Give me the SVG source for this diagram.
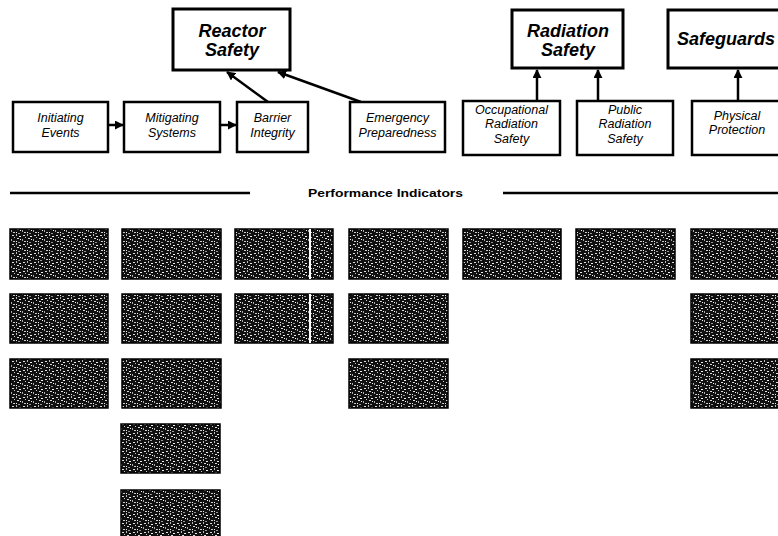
<svg xmlns="http://www.w3.org/2000/svg" width="778" height="536" viewBox="0 0 778 536">
<style>
.top{fill:#fff;stroke:#000;stroke-width:3}
.mid{fill:#fff;stroke:#000;stroke-width:2.5}
.tt{font-family:"Liberation Sans",Arial,sans-serif;font-weight:bold;font-style:italic;font-size:18px;fill:#000;text-anchor:middle}
.mt{font-family:"Liberation Sans",Arial,sans-serif;font-style:italic;font-size:12.5px;fill:#000;text-anchor:middle}
.pi{fill:url(#spk);stroke:#000;stroke-width:1.5}
.con{stroke:#000;stroke-width:2.5;fill:none}
.rule{stroke:#000;stroke-width:2.5}
.lbl{font-family:"Liberation Sans",Arial,sans-serif;font-weight:bold;font-size:10px;fill:#000}
.div{stroke:#fff;stroke-width:2}
</style>
<defs>
<marker id="ah" viewBox="0 0 10 10" refX="9" refY="5" markerWidth="3.6" markerHeight="3.6" orient="auto" markerUnits="strokeWidth">
<path d="M0,0 L10,5 L0,10 Z" fill="#000"/>
</marker>
<pattern id="spk" width="11" height="9" patternUnits="userSpaceOnUse">
<rect width="11" height="9" fill="#101010"/>
<rect x="1" y="1" width="2" height="1" fill="#ddd"/>
<rect x="5" y="0" width="1" height="2" fill="#bbb"/>
<rect x="8" y="2" width="2" height="1" fill="#eee"/>
<rect x="3" y="3" width="1" height="1" fill="#ccc"/>
<rect x="6" y="4" width="2" height="1" fill="#ddd"/>
<rect x="0" y="5" width="1" height="2" fill="#aaa"/>
<rect x="9" y="5" width="1" height="1" fill="#fff"/>
<rect x="2" y="7" width="2" height="1" fill="#ccc"/>
<rect x="5" y="7" width="1" height="1" fill="#eee"/>
<rect x="7" y="8" width="2" height="1" fill="#999"/>
</pattern>
</defs>
<rect width="778" height="536" fill="#fff"/>

<g id="connectors">
<line class="con" x1="108" y1="125" x2="123" y2="125" marker-end="url(#ah)"/>
<line class="con" x1="221" y1="125" x2="236" y2="125" marker-end="url(#ah)"/>
<line class="con" x1="268" y1="102" x2="227" y2="72" marker-end="url(#ah)"/>
<line class="con" x1="361" y1="102" x2="278" y2="72" marker-end="url(#ah)"/>
<line class="con" x1="537" y1="101" x2="537" y2="70" marker-end="url(#ah)"/>
<line class="con" x1="598" y1="101" x2="598" y2="70" marker-end="url(#ah)"/>
<line class="con" x1="738" y1="101" x2="738" y2="70" marker-end="url(#ah)"/>
</g>

<g id="reactor-safety">
<rect class="top" x="173" y="9" width="117" height="61"/>
<text class="tt" x="232" y="37">Reactor</text>
<text class="tt" x="232" y="56">Safety</text>
</g>
<g id="radiation-safety">
<rect class="top" x="512" y="10" width="111" height="58"/>
<text class="tt" x="568" y="37">Radiation</text>
<text class="tt" x="568" y="56">Safety</text>
</g>
<g id="safeguards">
<rect class="top" x="668" y="10" width="124" height="58"/>
<text class="tt" x="677" y="45" style="text-anchor:start">Safeguards</text>
</g>

<g id="initiating-events">
<rect class="mid" x="13" y="102" width="95" height="50"/>
<text class="mt" x="60.5" y="122">Initiating</text>
<text class="mt" x="60.5" y="137">Events</text>
</g>
<g id="mitigating-systems">
<rect class="mid" x="124" y="102" width="96" height="50"/>
<text class="mt" x="172" y="122">Mitigating</text>
<text class="mt" x="172" y="137">Systems</text>
</g>
<g id="barrier-integrity">
<rect class="mid" x="237" y="102" width="71" height="50"/>
<text class="mt" x="272.5" y="122">Barrier</text>
<text class="mt" x="272.5" y="137">Integrity</text>
</g>
<g id="emergency-preparedness">
<rect class="mid" x="350" y="102" width="95" height="50"/>
<text class="mt" x="397.5" y="122">Emergency</text>
<text class="mt" x="397.5" y="137">Preparedness</text>
</g>
<g id="occupational-radiation-safety">
<rect class="mid" x="463" y="101" width="97" height="54"/>
<text class="mt" x="511.5" y="114">Occupational</text>
<text class="mt" x="511.5" y="128">Radiation</text>
<text class="mt" x="511.5" y="143">Safety</text>
</g>
<g id="public-radiation-safety">
<rect class="mid" x="577" y="101" width="96" height="54"/>
<text class="mt" x="625" y="114">Public</text>
<text class="mt" x="625" y="128">Radiation</text>
<text class="mt" x="625" y="143">Safety</text>
</g>
<g id="physical-protection">
<rect class="mid" x="692" y="101" width="98" height="54"/>
<text class="mt" x="737" y="120">Physical</text>
<text class="mt" x="737" y="134">Protection</text>
</g>

<g id="performance-indicators-rule">
<line class="rule" x1="10" y1="193" x2="250" y2="193"/>
<line class="rule" x1="503" y1="193" x2="778" y2="193"/>
<text class="lbl" x="308" y="197" textLength="155" lengthAdjust="spacingAndGlyphs">Performance Indicators</text>
</g>

<g id="pi-column-1">
<rect class="pi" x="10" y="229" width="98" height="50"/>
<rect class="pi" x="10" y="294" width="98" height="49"/>
<rect class="pi" x="10" y="359" width="98" height="49"/>
</g>
<g id="pi-column-2">
<rect class="pi" x="122" y="229" width="99" height="50"/>
<rect class="pi" x="122" y="294" width="99" height="49"/>
<rect class="pi" x="122" y="359" width="99" height="49"/>
<rect class="pi" x="121" y="424" width="99" height="49"/>
<rect class="pi" x="121" y="490" width="99" height="49"/>
</g>
<g id="pi-column-3">
<rect class="pi" x="235" y="229" width="98" height="50"/>
<rect class="pi" x="235" y="294" width="98" height="49"/>
<line class="div" x1="310" y1="229" x2="310" y2="279"/>
<line class="div" x1="310" y1="294" x2="310" y2="343"/>
</g>
<g id="pi-column-4">
<rect class="pi" x="349" y="229" width="99" height="50"/>
<rect class="pi" x="349" y="294" width="99" height="49"/>
<rect class="pi" x="349" y="359" width="99" height="49"/>
</g>
<g id="pi-column-5">
<rect class="pi" x="463" y="229" width="98" height="50"/>
</g>
<g id="pi-column-6">
<rect class="pi" x="576" y="229" width="99" height="50"/>
</g>
<g id="pi-column-7">
<rect class="pi" x="691" y="229" width="99" height="50"/>
<rect class="pi" x="691" y="294" width="99" height="49"/>
<rect class="pi" x="691" y="359" width="99" height="49"/>
</g>
</svg>
